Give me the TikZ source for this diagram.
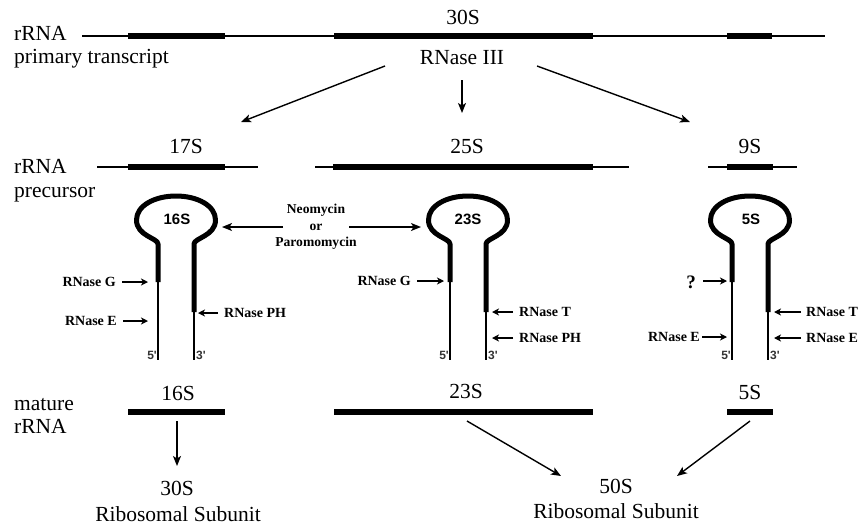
\documentclass[tikz,border=0pt]{standalone}
\usepackage{fontspec}
\setmainfont{Liberation Serif}
\newfontfamily\sansf{Liberation Sans}
\usetikzlibrary{arrows.meta}
\begin{document}
\begin{tikzpicture}[x=1pt,y=-1pt,
  big/.style={font=\fontsize{21.5}{23}\selectfont, inner sep=0pt, anchor=base},
  lab/.style={font=\fontsize{14}{15}\selectfont\bfseries, inner sep=0pt},
  looptxt/.style={font=\sansf\bfseries\fontsize{15}{15}\selectfont, inner sep=0pt},
  endtxt/.style={font=\sansf\bfseries\fontsize{12}{12}\selectfont, inner sep=0pt, text=black!80},
  rnathin/.style={line width=1.8pt},
  rnathick/.style={line width=6pt},
  loopline/.style={line width=5pt, line join=round},
  stemline/.style={line width=1.8pt},
  arr/.style={-{Stealth[length=10pt,width=8pt,inset=2.5pt]}, line width=1.4pt},
  sarr/.style={-{Stealth[length=7pt,width=7pt,inset=2pt]}, line width=1.5pt},
  rnaloop/.pic={
    \draw[loopline] (-18,62) -- (-18,24) .. controls (-18,18) and (-39.5,16) .. (-39.5,0)
      .. controls (-39.5,-14) and (-22,-24) .. (0,-24)
      .. controls (22,-24) and (39.5,-14) .. (39.5,0)
      .. controls (39.5,16) and (18,18) .. (18,24) -- (18,92);
    \draw[stemline] (-18,60) -- (-18,140);
    \draw[stemline] (18,90) -- (18,140);
  }]
\path[use as bounding box] (0,0) rectangle (861,525);

% ---- row 1: primary transcript
\node[big] (t30) at (463,24) {30S};
\node[big,anchor=base west] (lrrna1) at (14,40) {rRNA};
\node[big,anchor=base west] (lprim) at (14,63) {primary transcript};
\draw[rnathin] (82,36) -- (825,36);
\draw[rnathick] (128,36) -- (225,36);
\draw[rnathick] (334,36) -- (593,36);
\draw[rnathick] (727,36) -- (772,36);
\node[big] (rn3) at (462,64) {RNase III};

\coordinate (a1s) at (385,66);
\coordinate (a1e) at (241,122);
\coordinate (a2s) at (462,80);
\coordinate (a2e) at (462,113);
\coordinate (a3s) at (537,66);
\coordinate (a3e) at (690,122);
\draw[arr] (a1s) -- (a1e);
\draw[arr] (a2s) -- (a2e);
\draw[arr] (a3s) -- (a3e);

% ---- row 2: precursors
\node[big,anchor=base west] (lrrna2) at (14,173) {rRNA};
\node[big,anchor=base west] (lprec) at (14,197) {precursor};
\node[big] (t17) at (186,153) {17S};
\node[big] (t25) at (467,153) {25S};
\node[big] (t9) at (750,153) {9S};
\draw[rnathin] (97,167) -- (258,167);
\draw[rnathick] (128,167) -- (225,167);
\draw[rnathin] (315,167) -- (629,167);
\draw[rnathick] (333,167) -- (593,167);
\draw[rnathin] (708,167) -- (797,167);
\draw[rnathick] (727,167) -- (773,167);

% ---- stem loops
\pic (loopA) at (176,220) {rnaloop};
\pic (loopB) at (468,220) {rnaloop};
\pic (loopC) at (750,220) {rnaloop};
\node[looptxt] (s16) at (177,219) {16S};
\node[looptxt] (s23) at (468,219) {23S};
\node[looptxt] (s5) at (751,219) {5S};

% antibiotics
\node[lab, align=center, font=\fontsize{13.6}{16.5}\selectfont\bfseries] (neo) at (316,227) {Neomycin\\or\\Paromomycin};
\coordinate (neoL) at (283,227);
\coordinate (neoR) at (349,227);
\coordinate (loopAr) at (222,227);
\coordinate (loopBl) at (421,227);
\draw[arr] (neoL) -- (loopAr);
\draw[arr] (neoR) -- (loopBl);

% 16S cleavage labels
\node[lab, anchor=east] (g16) at (116,282) {RNase G};
\coordinate (g16t) at (148,282);
\draw[sarr] ([xshift=6pt]g16.east) -- (g16t);
\node[lab, anchor=east] (e16) at (117,321) {RNase E};
\coordinate (e16t) at (148,321);
\draw[sarr] ([xshift=6pt]e16.east) -- (e16t);
\node[lab, anchor=west] (ph16) at (224,313) {RNase PH};
\coordinate (ph16t) at (198,313);
\draw[sarr] ([xshift=-6pt]ph16.west) -- (ph16t);
\node[endtxt, anchor=east] (p5a) at (157,355) {5'};
\node[endtxt, anchor=west] (p3a) at (196,355) {3'};

% 23S cleavage labels
\node[lab, anchor=east] (g23) at (411,281) {RNase G};
\coordinate (g23t) at (444,281);
\draw[sarr] ([xshift=6pt]g23.east) -- (g23t);
\node[lab, anchor=west] (t23) at (519,312) {RNase T};
\coordinate (t23t) at (492,312);
\draw[sarr] ([xshift=-6pt]t23.west) -- (t23t);
\node[lab, anchor=west] (ph23) at (519,338) {RNase PH};
\coordinate (ph23t) at (492,338);
\draw[sarr] ([xshift=-6pt]ph23.west) -- (ph23t);
\node[endtxt, anchor=east] (p5b) at (449,355) {5'};
\node[endtxt, anchor=west] (p3b) at (488,355) {3'};

% 5S cleavage labels
\node[lab, font=\fontsize{19}{19}\selectfont\bfseries, anchor=base east] (q5) at (696,288) {?};
\coordinate (q5s) at (703,281);
\coordinate (q5t) at (727,281);
\draw[sarr] (q5s) -- (q5t);
\node[lab, anchor=east] (e5l) at (700,337) {RNase E};
\coordinate (e5lt) at (727,337);
\draw[sarr] ([xshift=2pt]e5l.east) -- (e5lt);
\node[lab, anchor=west] (t5) at (806,312) {RNase T};
\coordinate (t5t) at (774,312);
\draw[sarr] ([xshift=-5pt]t5.west) -- (t5t);
\node[lab, anchor=west] (e5r) at (806,338) {RNase E};
\coordinate (e5rt) at (774,338);
\draw[sarr] ([xshift=-5pt]e5r.west) -- (e5rt);
\node[endtxt, anchor=east] (p5c) at (731,355) {5'};
\node[endtxt, anchor=west] (p3c) at (770,355) {3'};

% ---- row 3: mature rRNA
\node[big,anchor=base west] (lmat) at (14,410) {mature};
\node[big,anchor=base west] (lrrna3) at (14,433) {rRNA};
\node[big] (m16) at (178,400) {16S};
\node[big] (m23) at (466,398) {23S};
\node[big] (m5) at (750,399) {5S};
\draw[rnathick] (128,412) -- (225,412);
\draw[rnathick] (334,412) -- (593,412);
\draw[rnathick] (727,412) -- (773,412);

% ---- subunits
\node[big] (r30) at (177,495) {30S};
\node[big] (sub30) at (178,521) {Ribosomal Subunit};
\node[big] (r50) at (616,493) {50S};
\node[big] (sub50) at (616,518) {Ribosomal Subunit};

\coordinate (b1s) at (177,421);
\coordinate (b1e) at (177,466);
\coordinate (b2s) at (467,421);
\coordinate (b2e) at (561,476);
\coordinate (b3s) at (750,421);
\coordinate (b3e) at (677,476);
\draw[arr] (b1s) -- (b1e);
\draw[arr] (b2s) -- (b2e);
\draw[arr] (b3s) -- (b3e);
\end{tikzpicture}
\end{document}
